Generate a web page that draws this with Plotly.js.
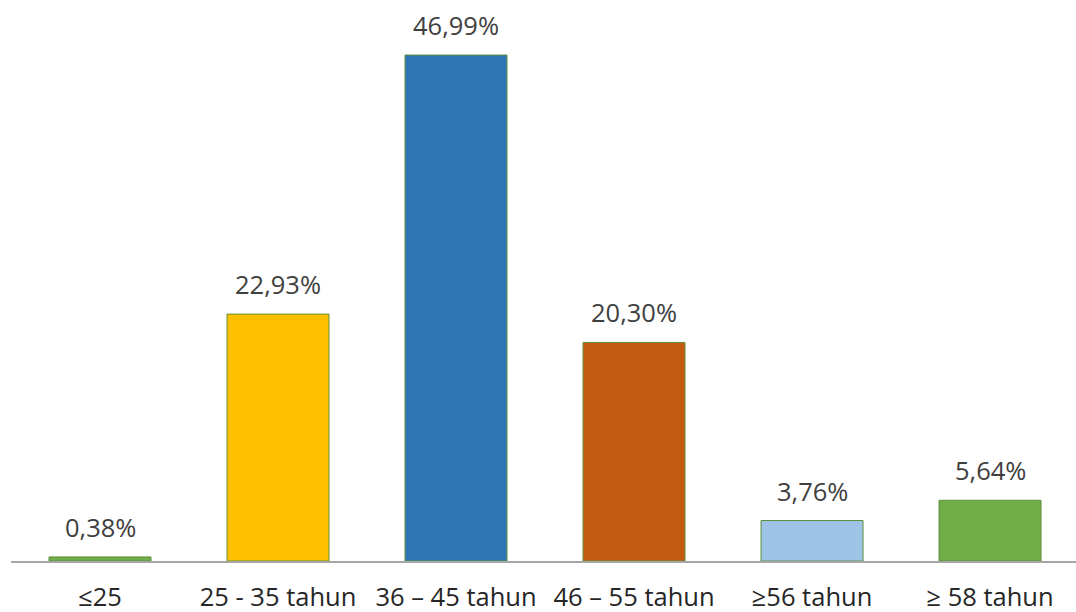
<!DOCTYPE html>
<html>
<head>
<meta charset="utf-8">
<script src="https://cdn.plot.ly/plotly-3.0.1.min.js"></script>
<style>html,body{margin:0;padding:0;background:#fff;}#chart{width:1076px;height:612px;}</style>
</head>
<body>
<div id="chart"></div>
<script>
var categories = ["≤25", "25 - 35 tahun", "36 – 45 tahun", "46 – 55 tahun", "≥56 tahun", "≥ 58 tahun"];
var values = [0.38, 22.93, 46.99, 20.30, 3.76, 5.64];
var barColors = ["#70AD47", "#FFC000", "#2E75B6", "#C55A11", "#9DC3E6", "#70AD47"];

var labels = values.map(function(v){ return v.toFixed(2).replace('.', ',') + '%'; });

var fontFam = 'Open Sans, Noto Sans, sans-serif';

var trace = {
  type: 'bar',
  x: categories,
  y: values,
  width: 0.573,
  marker: { color: barColors, line: { color: '#5E8E3E', width: 1 } },
  hoverinfo: 'none'
};

var annotations = categories.map(function(c, i){
  return {
    x: c, y: values[i], xref: 'x', yref: 'y',
    text: labels[i], showarrow: false,
    yanchor: 'bottom', yshift: 11,
    font: { family: fontFam, size: 25.5, color: '#404040' }
  };
});

var layout = {
  width: 1076, height: 612,
  margin: { l: 11, r: 0, t: 0, b: 51, pad: 0 },
  paper_bgcolor: '#ffffff', plot_bgcolor: '#ffffff',
  showlegend: false,
  xaxis: {
    type: 'category',
    range: [-0.5, 5.483],
    showline: true, linecolor: '#A6A6A6', linewidth: 1.5,
    ticks: '', showgrid: false, zeroline: false,
    ticklabelstandoff: 13,
    tickfont: { family: fontFam, size: 25.5, color: '#262626' }
  },
  yaxis: {
    range: [0, 52.1],
    visible: false, showgrid: false, zeroline: false
  },
  annotations: annotations
};

Plotly.newPlot('chart', [trace], layout, { displayModeBar: false, staticPlot: true });
</script>
</body>
</html>
